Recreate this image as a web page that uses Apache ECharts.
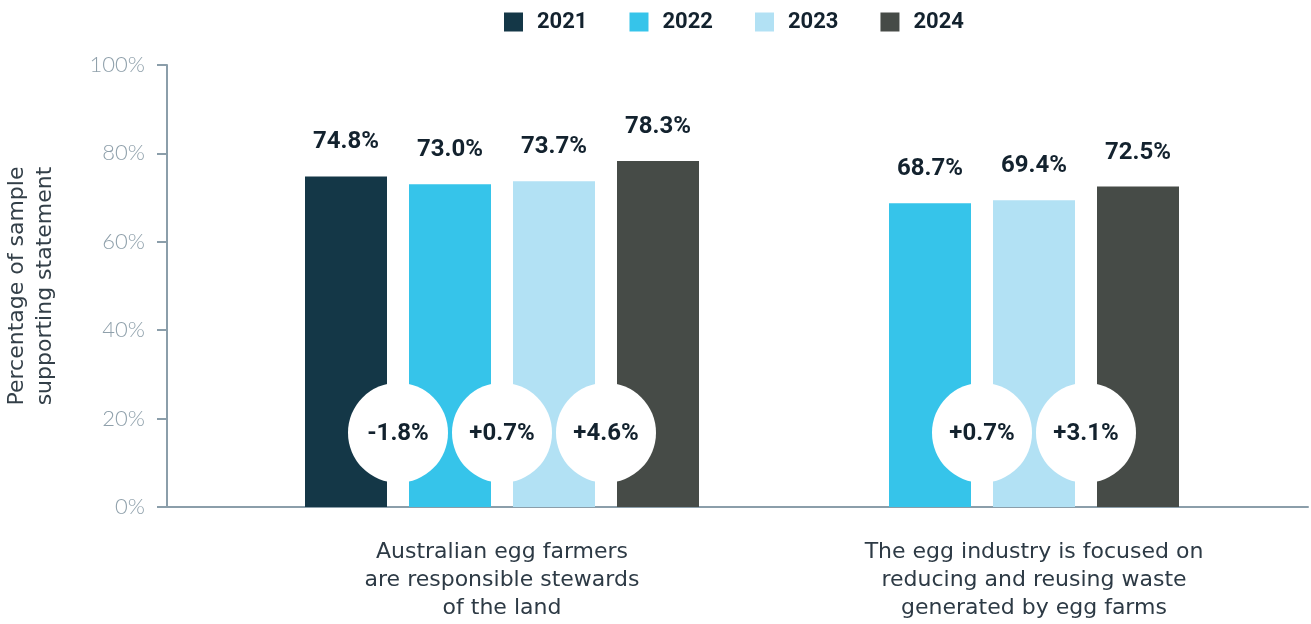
<!DOCTYPE html>
<html>
<head>
<meta charset="utf-8">
<title>Community perceptions of the egg industry</title>
<script src="https://cdn.jsdelivr.net/npm/echarts@6/dist/echarts.min.js"></script>
<style>
  html, body { margin: 0; padding: 0; background: #ffffff; }
  #chart { width: 1311px; height: 624px; }
</style>
</head>
<body>
<div id="chart"></div>
<script>
// ---- data ----
const categories = [
  'Australian egg farmers\nare responsible stewards\nof the land',
  'The egg industry is focused on\nreducing and reusing waste\ngenerated by egg farms'
];
const years = ['2021', '2022', '2023', '2024'];
const values2021 = [74.8, null];
const values2022 = [73.0, 68.7];
const values2023 = [73.7, 69.4];
const values2024 = [78.3, 72.5];
const yTicks = [0, 20, 40, 60, 80, 100];

// ---- styling ----
const COLORS = ['#143747', '#36c4ea', '#b2e1f4', '#464b47'];
const AXIS_COLOR = '#8b9eaa';
const DARK_TEXT = '#13222e';
const BAR_W = 82;
const BAR_GAP = 22;
const BUBBLE_R = 50;
const BUBBLE_LEVEL = 16.8;   // height (in axis units) of the change bubbles
const BOLD_FONT = 'bold 24px Roboto, "Open Sans", sans-serif';

const seriesValues = [values2021, values2022, values2023, values2024];

// years that actually have a value in each category; bars are centred per category
function presentYears(cat) {
  const out = [];
  seriesValues.forEach((vals, s) => { if (vals[cat] != null) out.push(s); });
  return out;
}

function groupLeft(api, cat, n) {
  const cx = api.coord([cat, 0])[0];
  return cx - (n * BAR_W + (n - 1) * BAR_GAP) / 2;
}

// year-on-year changes between neighbouring bars in each category
const changes = [];
categories.forEach((_, cat) => {
  const p = presentYears(cat);
  for (let i = 0; i + 1 < p.length; i++) {
    const d = seriesValues[p[i + 1]][cat] - seriesValues[p[i]][cat];
    const txt = (d >= 0 ? '+' : '-') + Math.abs(d).toFixed(1) + '%';
    changes.push({ cat: cat, slot: i, text: txt });
  }
});

function barSeries(s) {
  return {
    name: years[s],
    type: 'custom',
    xAxisIndex: 1,
    yAxisIndex: 1,
    itemStyle: { color: COLORS[s] },
    data: seriesValues[s].map((v, i) => [i, v == null ? 0 : v]),
    renderItem: function (params, api) {
      const cat = params.dataIndex;
      const v = seriesValues[s][cat];
      if (v == null) return null;
      const p = presentYears(cat);
      const n = p.length;
      const slot = p.indexOf(s);
      const x0 = groupLeft(api, cat, n) + slot * (BAR_W + BAR_GAP);
      const yTop = api.coord([cat, v])[1];
      const yBase = api.coord([cat, 0])[1];
      return {
        type: 'group',
        children: [
          {
            type: 'rect',
            shape: { x: x0, y: yTop, width: BAR_W, height: yBase - yTop },
            style: { fill: COLORS[s] }
          },
          {
            type: 'text',
            style: {
              text: v.toFixed(1) + '%',
              x: x0 + BAR_W / 2,
              y: yTop - 34,
              align: 'center',
              verticalAlign: 'middle',
              fill: DARK_TEXT,
              font: BOLD_FONT
            }
          }
        ]
      };
    }
  };
}

const bubbleSeries = {
  name: 'change',
  type: 'custom',
  xAxisIndex: 1,
  yAxisIndex: 1,
  z: 10,
  silent: true,
  data: changes.map(c => [c.cat, BUBBLE_LEVEL]),
  renderItem: function (params, api) {
    const c = changes[params.dataIndex];
    const n = presentYears(c.cat).length;
    const x0 = groupLeft(api, c.cat, n);
    const cx = x0 + (c.slot + 1) * BAR_W + c.slot * BAR_GAP + BAR_GAP / 2;
    const cy = api.coord([c.cat, BUBBLE_LEVEL])[1];
    return {
      type: 'group',
      children: [
        { type: 'circle', shape: { cx: cx, cy: cy, r: BUBBLE_R }, style: { fill: '#ffffff' } },
        {
          type: 'text',
          style: {
            text: c.text, x: cx, y: cy + 1,
            align: 'center', verticalAlign: 'middle',
            fill: DARK_TEXT,
            font: BOLD_FONT
          }
        }
      ]
    };
  }
};

const chart = echarts.init(document.getElementById('chart'), null, { renderer: 'canvas' });

chart.setOption({
  animation: false,
  backgroundColor: '#ffffff',
  legend: {
    data: years,
    left: 504,
    top: 11,
    padding: 0,
    icon: 'rect',
    itemWidth: 19,
    itemHeight: 19,
    itemGap: 42,
    textStyle: {
      fontFamily: 'Roboto, "Open Sans", sans-serif',
      fontWeight: 'bold',
      fontSize: 22,
      color: DARK_TEXT,
      padding: [0, 0, 0, 9]
    }
  },
  grid: [
    { left: 167, right: 3, top: 65, bottom: 117, containLabel: false, outerBoundsMode: 'none' },
    { left: 236, right: 11, top: 65, bottom: 117, containLabel: false, outerBoundsMode: 'none' }
  ],
  xAxis: [
    {
      gridIndex: 0,
      type: 'value',
      min: 0, max: 1,
      axisLine: { show: true, lineStyle: { color: AXIS_COLOR, width: 2 } },
      axisTick: { show: false },
      axisLabel: { show: false },
      splitLine: { show: false }
    },
    {
      gridIndex: 1,
      type: 'category',
      data: categories,
      axisLine: { show: false },
      axisTick: { show: false },
      splitLine: { show: false },
      axisLabel: {
        interval: 0,
        margin: 31,
        fontFamily: '"DejaVu Sans", sans-serif',
        fontSize: 22,
        lineHeight: 28,
        color: '#2d3a45',
        align: 'center'
      }
    }
  ],
  yAxis: [
    {
      gridIndex: 0,
      type: 'value',
      min: yTicks[0],
      max: yTicks[yTicks.length - 1],
      interval: yTicks[1] - yTicks[0],
      name: 'Percentage of sample\nsupporting statement',
      nameLocation: 'middle',
      nameRotate: 90,
      nameGap: 108,
      nameTextStyle: {
        fontFamily: '"DejaVu Sans", sans-serif',
        fontSize: 22,
        lineHeight: 28,
        color: '#333f48',
        align: 'center'
      },
      axisLine: { show: true, lineStyle: { color: AXIS_COLOR, width: 2 } },
      axisTick: { show: true, length: 10, lineStyle: { color: AXIS_COLOR, width: 2 } },
      axisLabel: {
        margin: 22,
        formatter: '{value}%',
        fontFamily: 'Lato, "Open Sans", sans-serif',
        fontWeight: 300,
        fontSize: 22,
        color: '#8fa0ab'
      },
      splitLine: { show: false }
    },
    {
      gridIndex: 1,
      type: 'value',
      min: 0, max: 100,
      show: false,
      splitLine: { show: false }
    }
  ],
  series: [barSeries(0), barSeries(1), barSeries(2), barSeries(3), bubbleSeries]
});
</script>
</body>
</html>
